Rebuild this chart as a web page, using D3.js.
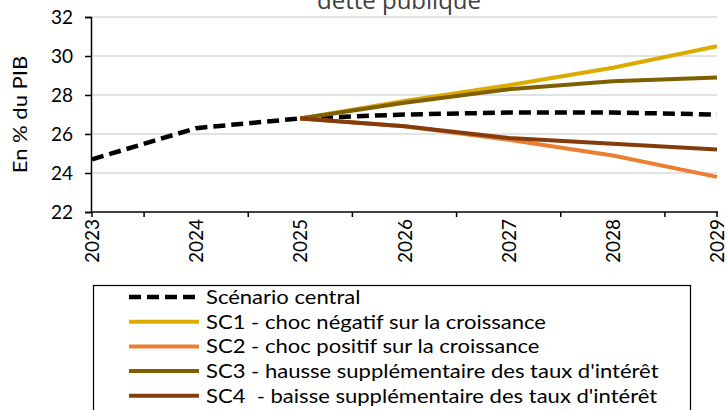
<!DOCTYPE html>
<html>
<head>
<meta charset="utf-8">
<script src="https://cdn.jsdelivr.net/npm/d3@7"></script>
<style>
  body { margin: 0; background: #fff; }
  svg { display: block; font-family: Lato, "Liberation Sans", sans-serif; }
  text { white-space: pre; }
</style>
</head>
<body>
<div id="chart"></div>
<script>
//Width and height
var w = 727;
var h = 410;

// Years on the x axis
var years = ["2023", "2024", "2025", "2026", "2027", "2028", "2029"];

// Series values (en % du PIB), null where the series does not exist
var central = [24.7, 26.3, 26.8, 27.0, 27.1, 27.1, 27.0];
var sc1 = [null, null, 26.8, 27.7, 28.5, 29.4, 30.5];
var sc2 = [null, null, 26.8, 26.4, 25.7, 24.9, 23.8];
var sc3 = [null, null, 26.8, 27.6, 28.3, 28.7, 28.9];
var sc4 = [null, null, 26.8, 26.4, 25.8, 25.5, 25.2];

// Y axis ticks
var yTicks = [22, 24, 26, 28, 30, 32];

var seriesNames = [
    "Scénario central",
    "SC1 - choc négatif sur la croissance",
    "SC2 - choc positif sur la croissance",
    "SC3 - hausse supplémentaire des taux d'intérêt",
    "SC4  - baisse supplémentaire des taux d'intérêt"
];
var seriesColors = ["#000000", "#DDAA00", "#ED7D31", "#7F6000", "#843C0C"];
var seriesValues = [central, sc1, sc2, sc3, sc4];

// plot area
var mLeft = 91, mRight = 717, mTop = 17, mBottom = 212;

//Create SVG element
var svg = d3.select("#chart")
            .append("svg")
            .attr("width", w)
            .attr("height", h);

var x = d3.scaleLinear()
          .domain([0, years.length - 1])
          .range([mLeft + 1, mRight]);

var y = d3.scaleLinear()
          .domain([22, 32])
          .range([mBottom, mTop]);

// title, cut at the top like the original
svg.append("text")
   .attr("x", 399)
   .attr("y", 9)
   .attr("text-anchor", "middle")
   .style("font-family", "'Open Sans', sans-serif")
   .style("font-size", "24px")
   .style("fill", "#404040")
   .text("dette publique");

// horizontal gridlines
svg.selectAll("line.grid")
   .data(yTicks.slice(1))
   .enter()
   .append("line")
   .attr("class", "grid")
   .attr("x1", mLeft)
   .attr("x2", mRight)
   .attr("y1", function(d) { return y(d); })
   .attr("y2", function(d) { return y(d); })
   .style("stroke", "#d9d9d9")
   .style("stroke-width", 1.5);

// y axis
var yAxis = d3.axisLeft(y)
              .tickValues(yTicks)
              .tickSize(6)
              .tickPadding(12);

var gy = svg.append("g")
            .attr("transform", "translate(" + mLeft + ",0)")
            .call(yAxis);
gy.select(".domain").style("stroke", "#000").style("stroke-width", 1.5);
gy.selectAll(".tick line").style("stroke", "#000").style("stroke-width", 1.5);
gy.selectAll(".tick text")
  .style("font-size", "19px")
  .style("font-family", "Lato, sans-serif")
  .style("fill", "#000");

svg.append("text")
   .attr("transform", "translate(27," + ((mTop + mBottom) / 2) + ") rotate(-90) scale(1.16,1)")
   .attr("text-anchor", "middle")
   .style("font-size", "19px")
   .style("fill", "#000")
   .text("En % du PIB");

// x axis: ticks between the categories, labels on them
var tickPos = [0];
for (var i = 0; i < years.length - 1; i++) tickPos.push(i + 0.5);
tickPos.push(years.length - 1);

svg.append("line")
   .attr("x1", mLeft)
   .attr("x2", mRight + 1)
   .attr("y1", mBottom)
   .attr("y2", mBottom)
   .style("stroke", "#000")
   .style("stroke-width", 1.5);

svg.selectAll("line.xtick")
   .data(tickPos)
   .enter()
   .append("line")
   .attr("class", "xtick")
   .attr("x1", function(d) { return x(d); })
   .attr("x2", function(d) { return x(d); })
   .attr("y1", mBottom)
   .attr("y2", mBottom + 5)
   .style("stroke", "#000")
   .style("stroke-width", 1.5);

svg.selectAll("text.xlab")
   .data(years)
   .enter()
   .append("text")
   .attr("class", "xlab")
   .attr("transform", function(d, i) {
       return "translate(" + (x(i) + 7) + "," + (mBottom + 7) + ") rotate(-90)";
   })
   .attr("text-anchor", "end")
   .style("font-size", "19px")
   .style("fill", "#000")
   .text(function(d) { return d; });

// lines
var line = d3.line()
             .defined(function(d) { return d != null; })
             .x(function(d, i) { return x(i); })
             .y(function(d) { return y(d); });

seriesValues.forEach(function(vals, k) {
    svg.append("path")
       .datum(vals)
       .attr("d", line)
       .style("fill", "none")
       .style("stroke", seriesColors[k])
       .style("stroke-width", k == 0 ? 4.5 : 4)
       .style("stroke-dasharray", k == 0 ? "12,6" : null)
       .style("stroke-linejoin", "round");
});

// legend
var lg = svg.append("g");
lg.append("rect")
  .attr("x", 93.5)
  .attr("y", 285.5)
  .attr("width", 597)
  .attr("height", 140)
  .style("fill", "#fff")
  .style("stroke", "#000")
  .style("stroke-width", 1.2);

seriesNames.forEach(function(name, k) {
    var cy = 297 + k * 24.7;
    lg.append("line")
      .attr("x1", 129)
      .attr("x2", 199)
      .attr("y1", cy)
      .attr("y2", cy)
      .style("stroke", seriesColors[k])
      .style("stroke-width", k == 0 ? 4.5 : 4)
      .style("stroke-dasharray", k == 0 ? "12,6" : null);
    lg.append("text")
      .attr("transform", "translate(206," + (cy + 7) + ") scale(1.16,1)")
      .style("font-size", "19px")
      .style("fill", "#000")
      .text(name);
});
</script>
</body>
</html>
